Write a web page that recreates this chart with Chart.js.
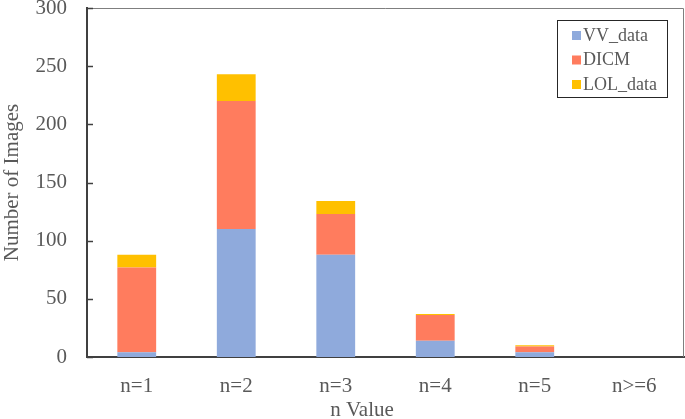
<!DOCTYPE html>
<html>
<head>
<meta charset="utf-8">
<script src="https://cdn.jsdelivr.net/npm/chart.js@4.4.1/dist/chart.umd.min.js"></script>
<style>
  html, body { margin: 0; padding: 0; background: #fff; }
  #wrap { width: 685px; height: 419px; }
</style>
</head>
<body>
<div id="wrap"><canvas id="chart" width="685" height="419"></canvas></div>
<script>
// --- data ---
const categories = ['n=1', 'n=2', 'n=3', 'n=4', 'n=5', 'n>=6'];
const vvData = [4, 110, 88, 14, 4, 0];
const dicmData = [73, 110, 35, 22, 5, 0];
const lolData = [11, 23, 11, 1, 1, 0];
const yTicks = [0, 50, 100, 150, 200, 250, 300];

const FONT = "'Liberation Serif', 'Times New Roman', serif";
const TEXT = '#595959';

// legend box + inside tick marks + plot frame + x title
const decor = {
    id: 'decor',
    afterDraw(chart) {
        const ctx = chart.ctx;
        const area = chart.chartArea;
        const y = chart.scales.y;
        ctx.save();

        // frame top/right
        ctx.strokeStyle = '#7f7f7f';
        ctx.lineWidth = 1;
        ctx.beginPath();
        ctx.moveTo(area.left, area.top + 0.5);
        ctx.lineTo(area.right - 0.5, area.top + 0.5);
        ctx.lineTo(area.right - 0.5, area.bottom);
        ctx.stroke();

        // inside tick marks on y axis
        ctx.strokeStyle = '#404040';
        ctx.lineWidth = 1.5;
        yTicks.forEach(v => {
            const py = Math.round(y.getPixelForValue(v)) + 0.5;
            ctx.beginPath();
            ctx.moveTo(area.left, py);
            ctx.lineTo(area.left + 6, py);
            ctx.stroke();
        });

        // x axis title (sits a bit left of centre in the original)
        ctx.fillStyle = TEXT;
        ctx.font = '21px ' + FONT;
        ctx.textAlign = 'center';
        ctx.textBaseline = 'middle';
        ctx.fillText('n Value', 362, 410);

        // legend
        const lx = 557, ly = 20, lw = 110, lh = 77;
        ctx.strokeStyle = '#262626';
        ctx.lineWidth = 1;
        ctx.fillStyle = '#fff';
        ctx.fillRect(lx, ly, lw, lh);
        ctx.strokeRect(lx + 0.5, ly + 0.5, lw, lh);
        ctx.font = '18px ' + FONT;
        ctx.textAlign = 'left';
        chart.data.datasets.forEach((ds, i) => {
            const cy = 35 + i * 24.5;
            ctx.fillStyle = ds.backgroundColor;
            ctx.fillRect(572, cy - 4, 9, 9);
            ctx.fillStyle = TEXT;
            ctx.fillText(ds.label, 583, cy + 1);
        });
        ctx.restore();
    }
};

new Chart(document.getElementById('chart'), {
    type: 'bar',
    data: {
        labels: categories,
        datasets: [
            { label: 'VV_data', data: vvData, backgroundColor: '#8FAADC' },
            { label: 'DICM', data: dicmData, backgroundColor: '#FF7C5E' },
            { label: 'LOL_data', data: lolData, backgroundColor: '#FFC000' }
        ]
    },
    options: {
        responsive: false,
        animation: false,
        layout: { padding: { top: 8, right: 1, left: 0, bottom: 0 } },
        datasets: { bar: { categoryPercentage: 1, barPercentage: 0.39 } },
        plugins: { legend: { display: false }, tooltip: { enabled: false } },
        scales: {
            x: {
                stacked: true,
                grid: { display: false, drawTicks: false },
                border: { display: true, color: '#404040', width: 2 },
                ticks: { color: TEXT, font: { family: FONT, size: 21 }, padding: 17, maxRotation: 0 },
                afterFit(scale) {
                    scale.height = 62;
                    scale.paddingLeft = 0;
                    scale.paddingRight = 0;
                }
            },
            y: {
                stacked: true,
                min: 0,
                max: 300,
                afterBuildTicks(scale) { scale.ticks = yTicks.map(v => ({ value: v })); },
                grid: { display: false, drawTicks: false },
                border: { display: true, color: '#404040', width: 2 },
                ticks: { color: TEXT, font: { family: FONT, size: 21 }, padding: 20 },
                title: {
                    display: true,
                    text: 'Number of Images',
                    color: TEXT,
                    font: { family: FONT, size: 21 },
                    padding: { top: 0, bottom: 0 }
                },
                afterFit(scale) {
                    scale.width = 87;
                    scale.paddingTop = 0;
                    scale.paddingBottom = 0;
                }
            }
        }
    },
    plugins: [decor]
});
</script>
</body>
</html>
